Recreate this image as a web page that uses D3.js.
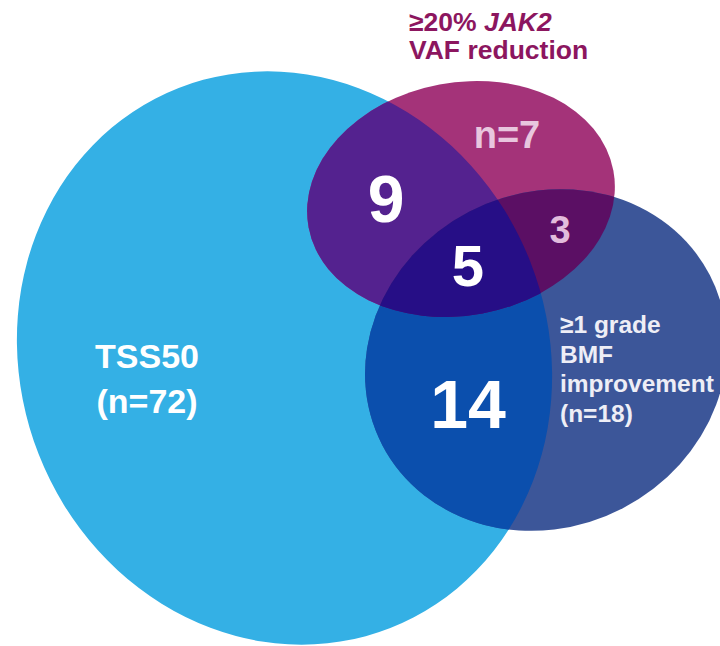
<!DOCTYPE html>
<html>
<head>
<meta charset="utf-8">
<script src="https://cdn.jsdelivr.net/npm/d3@7"></script>
<style>
  body { margin: 0; background: #fff; }
  svg text { font-family: "Liberation Sans", Arial, sans-serif; font-weight: bold; }
</style>
</head>
<body>
<div id="chart"></div>
<script>
// sets and counts
const setKeys = ["tss", "jak", "bmf"];
const setNames = ["TSS50", "≥20% JAK2 VAF reduction", "≥1 grade BMF improvement"];
const setTotals = [72, 7, 18];
const overlapSets = [["tss", "jak"], ["tss", "bmf"], ["jak", "bmf"], ["tss", "jak", "bmf"]];
const overlapCounts = [9, 14, 3, 5];

const width = 720, height = 646;

// ellipse layout (pixels, rotation in degrees)
const shapes = {
    tss: {cx: 284.5, cy: 358, rx: 264, ry: 290, angle: -21.4},
    jak: {cx: 461, cy: 199, rx: 155, ry: 116.5, angle: -10.6},
    bmf: {cx: 546, cy: 360, rx: 184.5, ry: 167, angle: -27.4}
};

const fills = {
    "tss": "#34b0e5",
    "jak": "#a43379",
    "bmf": "#3c5699",
    "tss,jak": "#54228f",
    "tss,bmf": "#0b4fad",
    "jak,bmf": "#5b0f64",
    "tss,jak,bmf": "#260e86"
};

let svg = d3.select("#chart")
    .append("svg")
    .attr("width", width)
    .attr("height", height);

function ellipse(parent, key) {
    let s = shapes[key];
    return parent.append("ellipse")
        .attr("cx", 0)
        .attr("cy", 0)
        .attr("rx", s.rx)
        .attr("ry", s.ry)
        .attr("transform", "translate(" + s.cx + "," + s.cy + ") rotate(" + s.angle + ")");
}

let defs = svg.append("defs");
setKeys.forEach(k => {
    ellipse(defs.append("clipPath").attr("id", "clip-" + k), k);
});

// whole sets
setKeys.forEach(k => ellipse(svg, k).attr("fill", fills[k]));

// overlaps: last set drawn inside nested clips of the others
overlapSets.forEach(sets => {
    let g = svg;
    sets.slice(0, -1).forEach(k => {
        g = g.append("g").attr("clip-path", "url(#clip-" + k + ")");
    });
    ellipse(g, sets[sets.length - 1]).attr("fill", fills[sets.join(",")]);
});

// overlap counts
const countPos = {
    "tss,jak": {x: 386, y: 222, size: 66, color: "#fff"},
    "tss,bmf": {x: 468, y: 428, size: 68, color: "#fff"},
    "jak,bmf": {x: 560, y: 243, size: 38, color: "#e2bcdc"},
    "tss,jak,bmf": {x: 468, y: 286, size: 58, color: "#fff"}
};
overlapSets.forEach((sets, i) => {
    let p = countPos[sets.join(",")];
    svg.append("text")
        .attr("x", p.x)
        .attr("y", p.y)
        .attr("text-anchor", "middle")
        .attr("font-size", p.size)
        .attr("fill", p.color)
        .text(overlapCounts[i]);
});

// TSS50 label
let tssLabel = svg.append("text")
    .attr("x", 147)
    .attr("y", 368)
    .attr("text-anchor", "middle")
    .attr("font-size", 34)
    .attr("fill", "#fff");
tssLabel.append("tspan").attr("x", 147).text(setNames[0]);
tssLabel.append("tspan").attr("x", 147).attr("dy", 45).text("(n=" + setTotals[0] + ")");

// JAK2 label above the ellipse
let jakLabel = svg.append("text")
    .attr("x", 409)
    .attr("y", 31)
    .attr("font-size", 26.5)
    .attr("fill", "#8c165f");
let l1 = jakLabel.append("tspan").attr("x", 409);
l1.append("tspan").text("≥20% ");
l1.append("tspan").attr("font-style", "italic").text("JAK2");
jakLabel.append("tspan").attr("x", 409).attr("dy", 28).text("VAF reduction");

svg.append("text")
    .attr("x", 507)
    .attr("y", 148)
    .attr("text-anchor", "middle")
    .attr("font-size", 38)
    .attr("fill", "#e8c6de")
    .text("n=" + setTotals[1]);

// BMF label
const bmfLines = ["≥1 grade", "BMF", "improvement", "(n=" + setTotals[2] + ")"];
let bmfLabel = svg.append("text")
    .attr("x", 560)
    .attr("y", 333)
    .attr("font-size", 24.5)
    .attr("fill", "#eeeef6");
bmfLines.forEach((t, i) => {
    bmfLabel.append("tspan")
        .attr("x", 560)
        .attr("dy", i === 0 ? 0 : 29.5)
        .text(t);
});
</script>
</body>
</html>
